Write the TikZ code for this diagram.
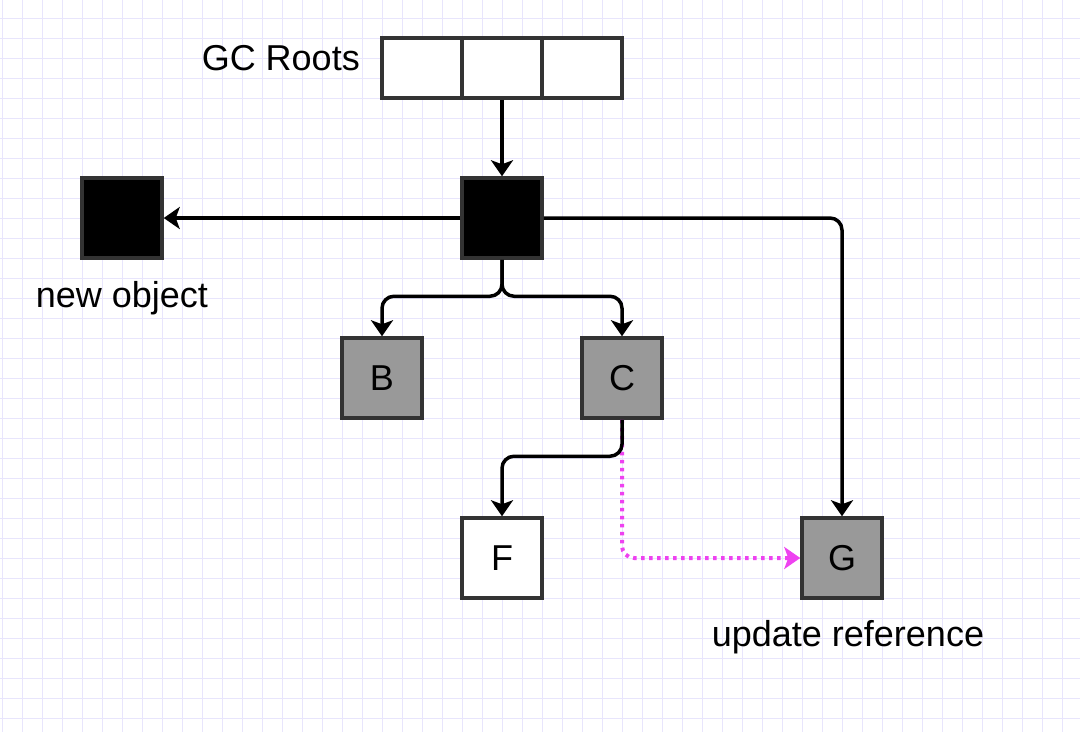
\documentclass[tikz,border=0pt]{standalone}
\usepackage{fontspec}
\setmainfont{Liberation Sans}
\usetikzlibrary{arrows.meta,calc}
\definecolor{gridc}{RGB}{232,229,252}
\definecolor{boxline}{RGB}{51,51,51}
\definecolor{objgray}{RGB}{153,153,153}
\definecolor{mag}{RGB}{238,66,240}
\tikzset{
  lbl/.style={font=\fontsize{36}{42}\selectfont, inner sep=0pt},
  obj/.style={draw=boxline, line width=3.5pt, minimum width=80pt, minimum height=80pt, inner sep=0pt, font=\fontsize{36}{42}\selectfont},
  cell/.style={draw=boxline, line width=3.5pt, fill=white, minimum width=80pt, minimum height=60pt, inner sep=0pt},
  conn/.style={line width=3.5pt, rounded corners=12pt, -{Stealth[length=16pt,width=22pt,inset=4pt]}},
  upd/.style={mag, line width=4pt, dash pattern=on 3.5pt off 4.5pt, rounded corners=12pt, -{Stealth[length=16pt,width=22pt,inset=4pt]}}
}
\begin{document}
\begin{tikzpicture}[x=1pt,y=-1pt]
\useasboundingbox (0,0) rectangle (1080,732);
\fill[white] (0,0) rectangle (1080,732);
\foreach \i in {0,...,53} \draw[gridc, line width=1.8pt] (2.5+20*\i,0) -- (2.5+20*\i,732);
\foreach \j in {0,...,36} \draw[gridc, line width=1.8pt] (0,-1.5+20*\j) -- (1080,-1.5+20*\j);
% GC roots
\node[cell] (r1) at (422,68) {};
\node[cell] (r2) at (502,68) {};
\node[cell] (r3) at (582,68) {};
\node[lbl, anchor=east] (gcl) at (360,58) {GC Roots};
% objects
\node[obj, fill=black] (m) at (502,218) {};
\node[obj, fill=black] (n) at (122,218) {};
\node[lbl] (nl) at (122,298) {new object};
\node[obj, fill=objgray] (B) at (382,378) {B};
\node[obj, fill=objgray] (C) at (622,378) {C};
\node[obj, fill=white] (F) at (502,558) {F};
\node[obj, fill=objgray] (G) at (842,558) {G};
\node[lbl] (gl) at (848,637) {update reference};
% connectors
\draw[upd] (C.south) |- (G.west);
\draw[conn] (r2.south) -- (m.north);
\draw[conn] (m.west) -- (n.east);
\draw[conn] (m.east) -| (G.north);
\draw[conn] (m.south) |- ([yshift=40pt]B.north) -- (B.north);
\draw[conn] (m.south) |- ([yshift=40pt]C.north) -- (C.north);
\draw[conn] (C.south) |- ([yshift=60pt]F.north) -- (F.north);
\end{tikzpicture}
\end{document}
